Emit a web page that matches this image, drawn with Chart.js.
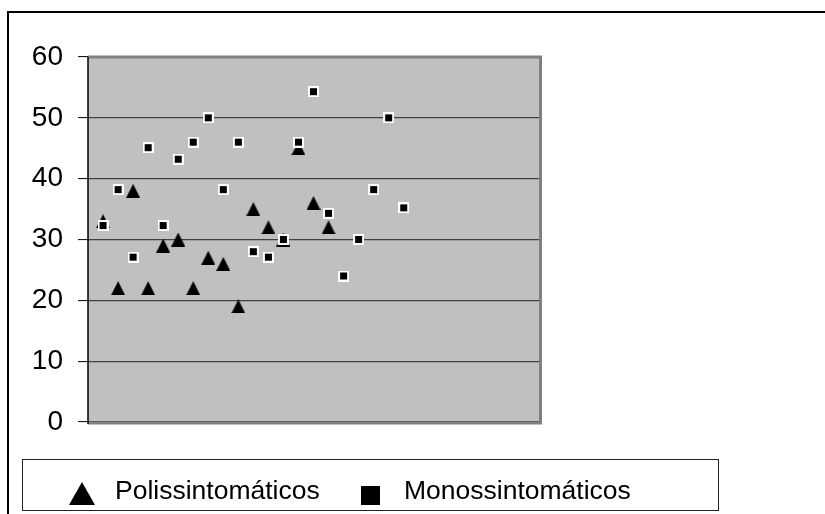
<!DOCTYPE html>
<html>
<head>
<meta charset="utf-8">
<script src="https://cdn.jsdelivr.net/npm/chart.js@4.4.0/dist/chart.umd.min.js"></script>
<style>
  html, body { margin: 0; padding: 0; background: #fff; }
  #wrap { position: relative; width: 825px; height: 514px; }
</style>
</head>
<body>
<div id="wrap"><canvas id="canvas" width="825" height="514"></canvas></div>
<script>
	// casos, na ordem do eixo x
	var casos = [1, 2, 3, 4, 5, 6, 7, 8, 9, 10, 11, 12, 13, 14, 15, 16, 17, 18, 19, 20, 21];
	var poliValores = [33, 22, 38, 22, 29, 30, 22, 27, 26, 19, 35, 32, 30, 45, 36, 32];
	var monoValores = [32.3, 38.2, 27.1, 45.1, 32.3, 43.2, 46, 50, 38.2, 46, 28, 27.1, 30, 46, 54.3, 34.3, 24, 30, 38.2, 50, 35.2];
	var yTicks = [0, 10, 20, 30, 40, 50, 60];
	var nomes = ['Polissintomáticos', 'Monossintomáticos'];

	function pontos(valores) {
		var out = [];
		for (var i = 0; i < valores.length; i++) {
			out.push({ x: casos[i], y: valores[i] });
		}
		return out;
	}

	// marcadores no estilo do Excel
	function triangulo(w, h) {
		var c = document.createElement('canvas');
		c.width = w; c.height = h;
		var g = c.getContext('2d');
		g.fillStyle = '#000';
		g.beginPath();
		g.moveTo(w / 2, 0);
		g.lineTo(w, h);
		g.lineTo(0, h);
		g.closePath();
		g.fill();
		return c;
	}
	function quadrado() {
		var c = document.createElement('canvas');
		c.width = 11; c.height = 11;
		var g = c.getContext('2d');
		g.fillStyle = '#fff';
		g.fillRect(0, 0, 11, 11);
		g.fillStyle = '#000';
		g.fillRect(2, 2, 7, 7);
		return c;
	}

	var fonte = '"Liberation Sans", Arial, sans-serif';
	Chart.defaults.font.family = fonte;
	Chart.defaults.color = '#000';

	var fundoPlot = {
		id: 'fundoPlot',
		beforeDraw: function (chart) {
			var a = chart.chartArea, ctx = chart.ctx;
			ctx.save();
			ctx.fillStyle = '#fff';
			ctx.fillRect(0, 0, chart.width, chart.height);
			// moldura externa
			ctx.strokeStyle = '#000';
			ctx.lineWidth = 2;
			ctx.strokeRect(8, 12, 900, 600);
			ctx.fillStyle = '#c0c0c0';
			ctx.fillRect(a.left, a.top, a.right - a.left, a.bottom - a.top);
			ctx.restore();
		},
		afterDatasetsDraw: function (chart) {
			var a = chart.chartArea, ctx = chart.ctx;
			ctx.save();
			ctx.strokeStyle = '#808080';
			ctx.lineWidth = 3;
			ctx.beginPath();
			ctx.moveTo(a.left, a.top);
			ctx.lineTo(a.right + 1.5, a.top);
			ctx.lineTo(a.right + 1.5, a.bottom + 1);
			ctx.lineTo(a.left, a.bottom + 1);
			ctx.stroke();
			ctx.strokeStyle = '#000';
			ctx.lineWidth = 1.5;
			ctx.beginPath();
			ctx.moveTo(a.left, a.top);
			ctx.lineTo(a.left, a.bottom + 2);
			ctx.stroke();
			ctx.restore();
		},
		afterDraw: function (chart) {
			var ctx = chart.ctx;
			ctx.save();
			ctx.strokeStyle = '#222';
			ctx.lineWidth = 1;
			ctx.strokeRect(22.5, 459.5, 696, 51);
			ctx.fillStyle = '#000';
			ctx.beginPath();
			ctx.moveTo(82, 482);
			ctx.lineTo(95, 505);
			ctx.lineTo(69, 505);
			ctx.closePath();
			ctx.fill();
			ctx.fillRect(361, 486, 19, 19);
			ctx.font = '26.5px ' + fonte;
			ctx.textBaseline = 'alphabetic';
			ctx.fillText(nomes[0], 115, 499);
			ctx.fillText(nomes[1], 404, 499);
			ctx.restore();
		}
	};

	window.onload = function () {
		var ctx = document.getElementById('canvas').getContext('2d');
		window.myChart = new Chart(ctx, {
			type: 'scatter',
			data: {
				datasets: [{
					label: nomes[0],
					data: pontos(poliValores),
					pointStyle: triangulo(14, 14),
					pointRadius: 7,
					order: 1
				}, {
					label: nomes[1],
					data: pontos(monoValores),
					pointStyle: quadrado(),
					pointRadius: 6,
					order: 0
				}]
			},
			options: {
				responsive: false,
				animation: false,
				layout: { padding: { top: 57, left: 0, right: 286, bottom: 92 } },
				plugins: {
					legend: { display: false },
					tooltip: { enabled: false }
				},
				scales: {
					x: { type: 'linear', min: 0, max: 30, display: false },
					y: {
						min: 0,
						max: 60,
						afterFit: function (scale) { scale.width = 88; },
						afterBuildTicks: function (scale) {
							scale.ticks = yTicks.map(function (v) { return { value: v }; });
						},
						ticks: {
							padding: 15,
							font: { size: 28 },
							color: '#000'
						},
						grid: {
							color: '#404040',
							lineWidth: 1.2,
							tickLength: 10,
							tickColor: '#000',
							tickWidth: 1
						},
						border: { display: false }
					}
				}
			},
			plugins: [fundoPlot]
		});
	};
</script>
</body>
</html>
